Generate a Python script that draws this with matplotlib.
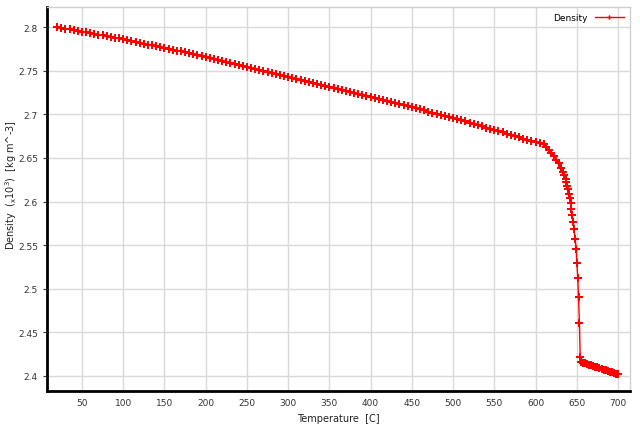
import matplotlib
matplotlib.use("Agg")
import matplotlib.pyplot as plt

temperature = [
    20, 25, 30, 35, 40, 45, 50, 55, 60, 65, 70, 75, 80, 85, 90, 95,
    100, 105, 110, 115, 120, 125, 130, 135, 140, 145, 150, 155, 160, 165, 170, 175,
    180, 185, 190, 195, 200, 205, 210, 215, 220, 225, 230, 235, 240, 245, 250, 255,
    260, 265, 270, 275, 280, 285, 290, 295, 300, 305, 310, 315, 320, 325, 330, 335,
    340, 345, 350, 355, 360, 365, 370, 375, 380, 385, 390, 395, 400, 405, 410, 415,
    420, 425, 430, 435, 440, 445, 450, 455, 460, 465, 470, 475, 480, 485, 490, 495,
    500, 505, 510, 515, 520, 525, 530, 535, 540, 545, 550, 555, 560, 565, 570, 575,
    580, 585, 590, 595, 600, 605, 610,
    613, 616, 619, 622, 625, 628, 631, 633, 635, 636.5, 637.5, 638.5, 639.5, 640.5,
    641.5, 642.5, 643.5, 644.5, 645.5, 646.5, 648, 649.2, 650, 651.2, 652.1, 653.2,
    654.1, 655.2,
    657.5, 660, 662.5, 665, 667.5, 670, 672.5, 675, 677.5, 680, 682.5, 685, 687.5,
    690, 692.5, 695, 697.5, 700,
]

density = [
    2.8000, 2.7991, 2.7983, 2.7974, 2.7965, 2.7956, 2.7948, 2.7939, 2.7930, 2.7921,
    2.7913, 2.7904, 2.7895, 2.7886, 2.7878, 2.7869,
    2.7860, 2.7850, 2.7840, 2.7830, 2.7820, 2.7810, 2.7800, 2.7790, 2.7780, 2.7770,
    2.7760, 2.7750, 2.7740, 2.7730, 2.7720, 2.7710,
    2.7700, 2.7690, 2.7680, 2.7670, 2.7660, 2.7649, 2.7637, 2.7626, 2.7614, 2.7603,
    2.7591, 2.7580, 2.7568, 2.7557, 2.7545, 2.7534,
    2.7522, 2.7511, 2.7499, 2.7488, 2.7476, 2.7465, 2.7453, 2.7442, 2.7430, 2.7419,
    2.7407, 2.7396, 2.7384, 2.7373, 2.7361, 2.7350,
    2.7338, 2.7327, 2.7315, 2.7304, 2.7292, 2.7281, 2.7269, 2.7258, 2.7246, 2.7235,
    2.7223, 2.7212, 2.7200, 2.7188, 2.7176, 2.7164,
    2.7152, 2.7140, 2.7128, 2.7116, 2.7104, 2.7092, 2.7080, 2.7068, 2.7056, 2.7044,
    2.7032, 2.7020, 2.7008, 2.6996, 2.6984, 2.6972,
    2.6960, 2.6946, 2.6932, 2.6918, 2.6904, 2.6890, 2.6876, 2.6862, 2.6848, 2.6834,
    2.6820, 2.6806, 2.6792, 2.6778, 2.6764, 2.6750,
    2.6736, 2.6722, 2.6708, 2.6694, 2.6680, 2.6668, 2.6655,
    2.6630, 2.6590, 2.6560, 2.6520, 2.6480, 2.6440, 2.6380, 2.6340, 2.6300, 2.6260,
    2.6220, 2.6180, 2.6140, 2.6090, 2.6040, 2.5980, 2.5910, 2.5840, 2.5770, 2.5680,
    2.5570, 2.5460, 2.5300, 2.5120, 2.4900, 2.4610, 2.4220, 2.4160,
    2.4152, 2.4145, 2.4137, 2.4130, 2.4122, 2.4115, 2.4106, 2.4098, 2.4090, 2.4082,
    2.4074, 2.4066, 2.4058, 2.4050, 2.4042, 2.4035, 2.4027, 2.4020,
]

x_ticks = [50, 100, 150, 200, 250, 300, 350, 400, 450, 500, 550, 600, 650, 700]
y_ticks = [2.4, 2.45, 2.5, 2.55, 2.6, 2.65, 2.7, 2.75, 2.8]
y_tick_labels = ["2.4", "2.45", "2.5", "2.55", "2.6", "2.65", "2.7", "2.75", "2.8"]

plt.rcParams["font.family"] = ["DejaVu Sans"]

fig = plt.figure(figsize=(6.4, 4.27), dpi=100)
ax = fig.add_axes([47 / 640, 1 - 392 / 427, (630 - 47) / 640, (392 - 8) / 427])

ax.plot(temperature, density, color="#ff0000", linewidth=1.0, marker="P",
        markersize=5.2, markeredgewidth=0.0, label="Density")

ax.set_xlim(7.6, 714.5)
ax.set_ylim(2.3828, 2.823)
ax.set_xticks(x_ticks)
ax.set_yticks(y_ticks)
ax.set_yticklabels(y_tick_labels)
ax.tick_params(axis="both", labelsize=6.5, colors="#333333", length=3, width=0.8)
ax.tick_params(axis="x", length=0, pad=5)
ax.grid(True, color="#d9d9d9", linewidth=1.0)
ax.set_axisbelow(True)

for side in ["left", "bottom"]:
    ax.spines[side].set_color("black")
    ax.spines[side].set_linewidth(2.0)
for side in ["top", "right"]:
    ax.spines[side].set_color("#d0d0d0")
    ax.spines[side].set_linewidth(1.0)

ax.set_xlabel("Temperature  [C]", fontsize=7, color="#222222")
ax.xaxis.set_label_coords(0.5, -0.057)
fig.text(11 / 640, 1 - 185 / 427,
         r"Density  ($_\mathregular{x}$10$^\mathregular{3}$)  [kg m^-3]",
         fontsize=7, color="#222222", rotation=90, ha="center", va="center")

ax.legend(loc="upper right", frameon=False, fontsize=6.5, markerfirst=False,
          handlelength=3.2, borderaxespad=0.3, markerscale=0.6)

fig.savefig("out.png", dpi=100)
